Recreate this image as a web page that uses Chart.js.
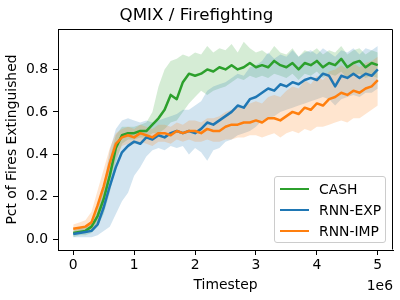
<!DOCTYPE html>
<html><head><meta charset="utf-8">
<script src="https://cdn.jsdelivr.net/npm/chart.js@4"></script>
<style>
html,body{margin:0;padding:0;background:#fff;}
#wrap{position:relative;width:400px;height:300px;}
#legend{position:absolute;left:274px;top:176px;width:112px;height:67px;box-sizing:border-box;border:1px solid #cccccc;border-radius:3px;background:rgba(255,255,255,0.8);font-family:'DejaVu Sans';font-size:13.9px;color:#000;}
.item{position:absolute;left:0;width:110px;height:20px;}
.item .h{position:absolute;left:5px;top:9px;width:29px;height:2.5px;}
.item .t{position:absolute;left:44px;top:0;line-height:20px;white-space:nowrap;}
</style>
</head><body>
<div id="wrap"><canvas id="c" width="400" height="300"></canvas><div id="legend"></div></div>
<script>
const timesteps = [0,100000,200000,300000,400000,500000,600000,700000,800000,900000,
 1000000,1100000,1200000,1300000,1400000,1500000,1600000,1700000,1800000,1900000,
 2000000,2100000,2200000,2300000,2400000,2500000,2600000,2700000,2800000,2900000,
 3000000,3100000,3200000,3300000,3400000,3500000,3600000,3700000,3800000,3900000,
 4000000,4100000,4200000,4300000,4400000,4500000,4600000,4700000,4800000,4900000,
 5000000];

const seriesNames = ['CASH','RNN-EXP','RNN-IMP'];

const cashMean = [0.03,0.035,0.04,0.06,0.11,0.19,0.30,0.43,0.49,0.50,
 0.50,0.51,0.51,0.54,0.57,0.61,0.68,0.66,0.74,0.78,
 0.77,0.78,0.80,0.79,0.81,0.80,0.82,0.80,0.81,0.83,
 0.81,0.82,0.81,0.84,0.82,0.81,0.83,0.80,0.83,0.82,
 0.84,0.81,0.83,0.82,0.85,0.81,0.83,0.84,0.81,0.83,
 0.82];
const cashLow = [0.01,0.02,0.02,0.03,0.06,0.12,0.22,0.36,0.45,0.47,
 0.47,0.48,0.48,0.50,0.50,0.52,0.55,0.56,0.60,0.64,
 0.67,0.70,0.68,0.70,0.71,0.72,0.74,0.76,0.75,0.77,
 0.76,0.77,0.76,0.78,0.77,0.76,0.78,0.75,0.78,0.77,
 0.79,0.76,0.78,0.77,0.79,0.76,0.77,0.78,0.76,0.77,
 0.76];
const cashHigh = [0.05,0.05,0.06,0.09,0.16,0.26,0.38,0.49,0.53,0.53,
 0.53,0.54,0.55,0.60,0.72,0.80,0.84,0.85,0.87,0.86,
 0.88,0.87,0.91,0.88,0.90,0.89,0.92,0.88,0.93,0.90,
 0.88,0.89,0.87,0.91,0.88,0.87,0.90,0.86,0.89,0.88,
 0.90,0.87,0.89,0.88,0.91,0.87,0.89,0.90,0.87,0.89,
 0.88];

const expMean = [0.025,0.03,0.035,0.04,0.07,0.15,0.25,0.34,0.41,0.44,
 0.46,0.45,0.48,0.47,0.49,0.48,0.50,0.51,0.50,0.51,
 0.50,0.52,0.55,0.54,0.56,0.58,0.60,0.63,0.62,0.66,
 0.67,0.69,0.71,0.70,0.73,0.72,0.74,0.73,0.75,0.76,
 0.75,0.78,0.77,0.72,0.77,0.76,0.78,0.76,0.78,0.77,
 0.80];
const expLow = [0.01,0.01,0.01,0.01,0.02,0.04,0.06,0.12,0.18,0.22,
 0.30,0.34,0.39,0.42,0.43,0.42,0.44,0.43,0.44,0.40,
 0.43,0.41,0.37,0.42,0.43,0.46,0.47,0.49,0.50,0.51,
 0.53,0.56,0.57,0.58,0.60,0.61,0.62,0.63,0.64,0.65,
 0.66,0.67,0.66,0.63,0.66,0.67,0.68,0.67,0.69,0.69,
 0.71];
const expHigh = [0.04,0.05,0.06,0.07,0.13,0.26,0.42,0.52,0.56,0.57,
 0.56,0.55,0.56,0.55,0.56,0.57,0.58,0.59,0.61,0.61,
 0.63,0.65,0.70,0.72,0.73,0.74,0.76,0.78,0.77,0.81,
 0.82,0.84,0.88,0.85,0.87,0.86,0.89,0.86,0.88,0.89,
 0.87,0.90,0.88,0.86,0.89,0.88,0.90,0.87,0.90,0.89,
 0.91];

const impMean = [0.05,0.055,0.06,0.08,0.16,0.25,0.36,0.45,0.48,0.49,
 0.48,0.50,0.49,0.48,0.50,0.50,0.49,0.51,0.50,0.51,
 0.51,0.50,0.52,0.51,0.51,0.53,0.54,0.54,0.55,0.55,
 0.56,0.55,0.57,0.57,0.56,0.58,0.60,0.59,0.62,0.61,
 0.64,0.63,0.66,0.67,0.69,0.68,0.70,0.69,0.71,0.72,
 0.75];
const impLow = [0.03,0.03,0.03,0.04,0.09,0.17,0.28,0.38,0.44,0.45,
 0.45,0.46,0.45,0.44,0.46,0.46,0.45,0.47,0.46,0.47,
 0.46,0.46,0.47,0.46,0.46,0.47,0.47,0.48,0.48,0.49,
 0.49,0.48,0.49,0.50,0.48,0.50,0.51,0.50,0.52,0.51,
 0.53,0.53,0.54,0.55,0.56,0.55,0.57,0.57,0.59,0.61,
 0.63];
const impHigh = [0.07,0.08,0.09,0.13,0.23,0.33,0.43,0.50,0.52,0.53,
 0.52,0.54,0.53,0.52,0.54,0.54,0.53,0.55,0.54,0.56,
 0.56,0.55,0.57,0.57,0.58,0.60,0.61,0.62,0.63,0.64,
 0.65,0.64,0.67,0.68,0.67,0.70,0.72,0.71,0.75,0.73,
 0.77,0.75,0.79,0.80,0.82,0.80,0.83,0.81,0.83,0.84,
 0.86];

const xTickValues = [0,1000000,2000000,3000000,4000000,5000000];
const xTickLabels = ['0','1','2','3','4','5'];
const yTickValues = [0,0.2,0.4,0.6,0.8];
const yTickLabels = ['0.0','0.2','0.4','0.6','0.8'];

const FONT = 'DejaVu Sans';
const series = [
  {label:seriesNames[0], color:'#2ca02c', band:'rgba(44,160,44,0.2)', mean:cashMean, lo:cashLow, hi:cashHigh, lineOrder:2, bandOrder:12},
  {label:seriesNames[1], color:'#1f77b4', band:'rgba(31,119,180,0.2)', mean:expMean, lo:expLow, hi:expHigh, lineOrder:1, bandOrder:11},
  {label:seriesNames[2], color:'#ff7f0e', band:'rgba(255,127,14,0.2)', mean:impMean, lo:impLow, hi:impHigh, lineOrder:0, bandOrder:10}
];
const pts = arr => timesteps.map((t,i)=>({x:t,y:arr[i]}));
const datasets = [];
series.forEach(s=>{
  datasets.push({label:s.label+' upper', data:pts(s.hi), borderWidth:0, borderColor:'rgba(0,0,0,0)', pointRadius:0, fill:false, order:s.bandOrder});
  datasets.push({label:s.label+' lower', data:pts(s.lo), borderWidth:0, borderColor:'rgba(0,0,0,0)', backgroundColor:s.band, pointRadius:0, fill:'-1', order:s.bandOrder});
});
series.forEach(s=>{
  datasets.push({label:s.label, data:pts(s.mean), borderColor:s.color, borderWidth:2.5, pointRadius:0, fill:false, tension:0, order:s.lineOrder, borderJoinStyle:'round', borderCapStyle:'butt'});
});

const extras = {
  id:'extras',
  afterDraw(chart){
    const {ctx, chartArea:a} = chart;
    ctx.save();
    ctx.strokeStyle = '#000'; ctx.lineWidth = 1;
    ctx.beginPath();
    const L = Math.round(a.left)+0.5, R = Math.round(a.right)-0.5, T = Math.round(a.top)+0.5, B = Math.round(a.bottom)-0.5;
    ctx.moveTo(L,T); ctx.lineTo(R,T); ctx.lineTo(R,B);
    ctx.stroke();
    ctx.fillStyle = '#000';
    ctx.font = '13.9px "'+FONT+'"';
    ctx.textAlign = 'right'; ctx.textBaseline = 'middle';
    ctx.fillText('1e6', a.right, 286);
    ctx.restore();
  }
};

const axisFont = {family:FONT, size:13.9};
new Chart(document.getElementById('c'), {
  type:'line',
  data:{datasets},
  options:{
    responsive:false, animation:false, devicePixelRatio:1,
    layout:{padding:{left:0,right:7,top:0,bottom:0}},
    plugins:{
      legend:{display:false}, tooltip:{enabled:false},
      title:{display:true, text:'QMIX / Firefighting', color:'#000', font:{family:FONT, size:16.7, weight:'normal'}, padding:{top:6,bottom:3}}
    },
    scales:{
      x:{type:'linear', min:-250000, max:5250000,
        afterBuildTicks:s=>{s.ticks = xTickValues.map(v=>({value:v}));},
        afterFit:s=>{s.height = 50;},
        ticks:{callback:v=>xTickLabels[xTickValues.indexOf(v)], color:'#000', font:axisFont, padding:2, maxRotation:0, autoSkip:false},
        grid:{drawOnChartArea:false, drawTicks:true, tickLength:5, color:'#000', lineWidth:1},
        border:{display:true, color:'#000', width:1},
        title:{display:true, text:'Timestep', color:'#000', font:axisFont, padding:{top:0,bottom:6.5}}
      },
      y:{type:'linear', min:-0.05, max:0.99,
        afterBuildTicks:s=>{s.ticks = yTickValues.map(v=>({value:v}));},
        afterFit:s=>{s.width = 58;},
        ticks:{callback:v=>yTickLabels[yTickValues.findIndex(t=>Math.abs(t-v)<1e-9)], color:'#000', font:axisFont, padding:5, autoSkip:false},
        grid:{drawOnChartArea:false, drawTicks:true, tickLength:5, color:'#000', lineWidth:1},
        border:{display:true, color:'#000', width:1},
        title:{display:true, text:'Pct of Fires Extinguished', color:'#000', font:axisFont, padding:{top:4,bottom:0}}
      }
    }
  },
  plugins:[extras]
});

const leg = document.getElementById('legend');
const rowTops = [1.5, 22.5, 43.5];
series.forEach((s,i)=>{
  const d = document.createElement('div');
  d.className='item'; d.style.top = rowTops[i]+'px';
  d.innerHTML = '<div class="h" style="background:'+s.color+'"></div><div class="t"></div>';
  d.querySelector('.t').textContent = s.label;
  leg.appendChild(d);
});
</script>
</body></html>
